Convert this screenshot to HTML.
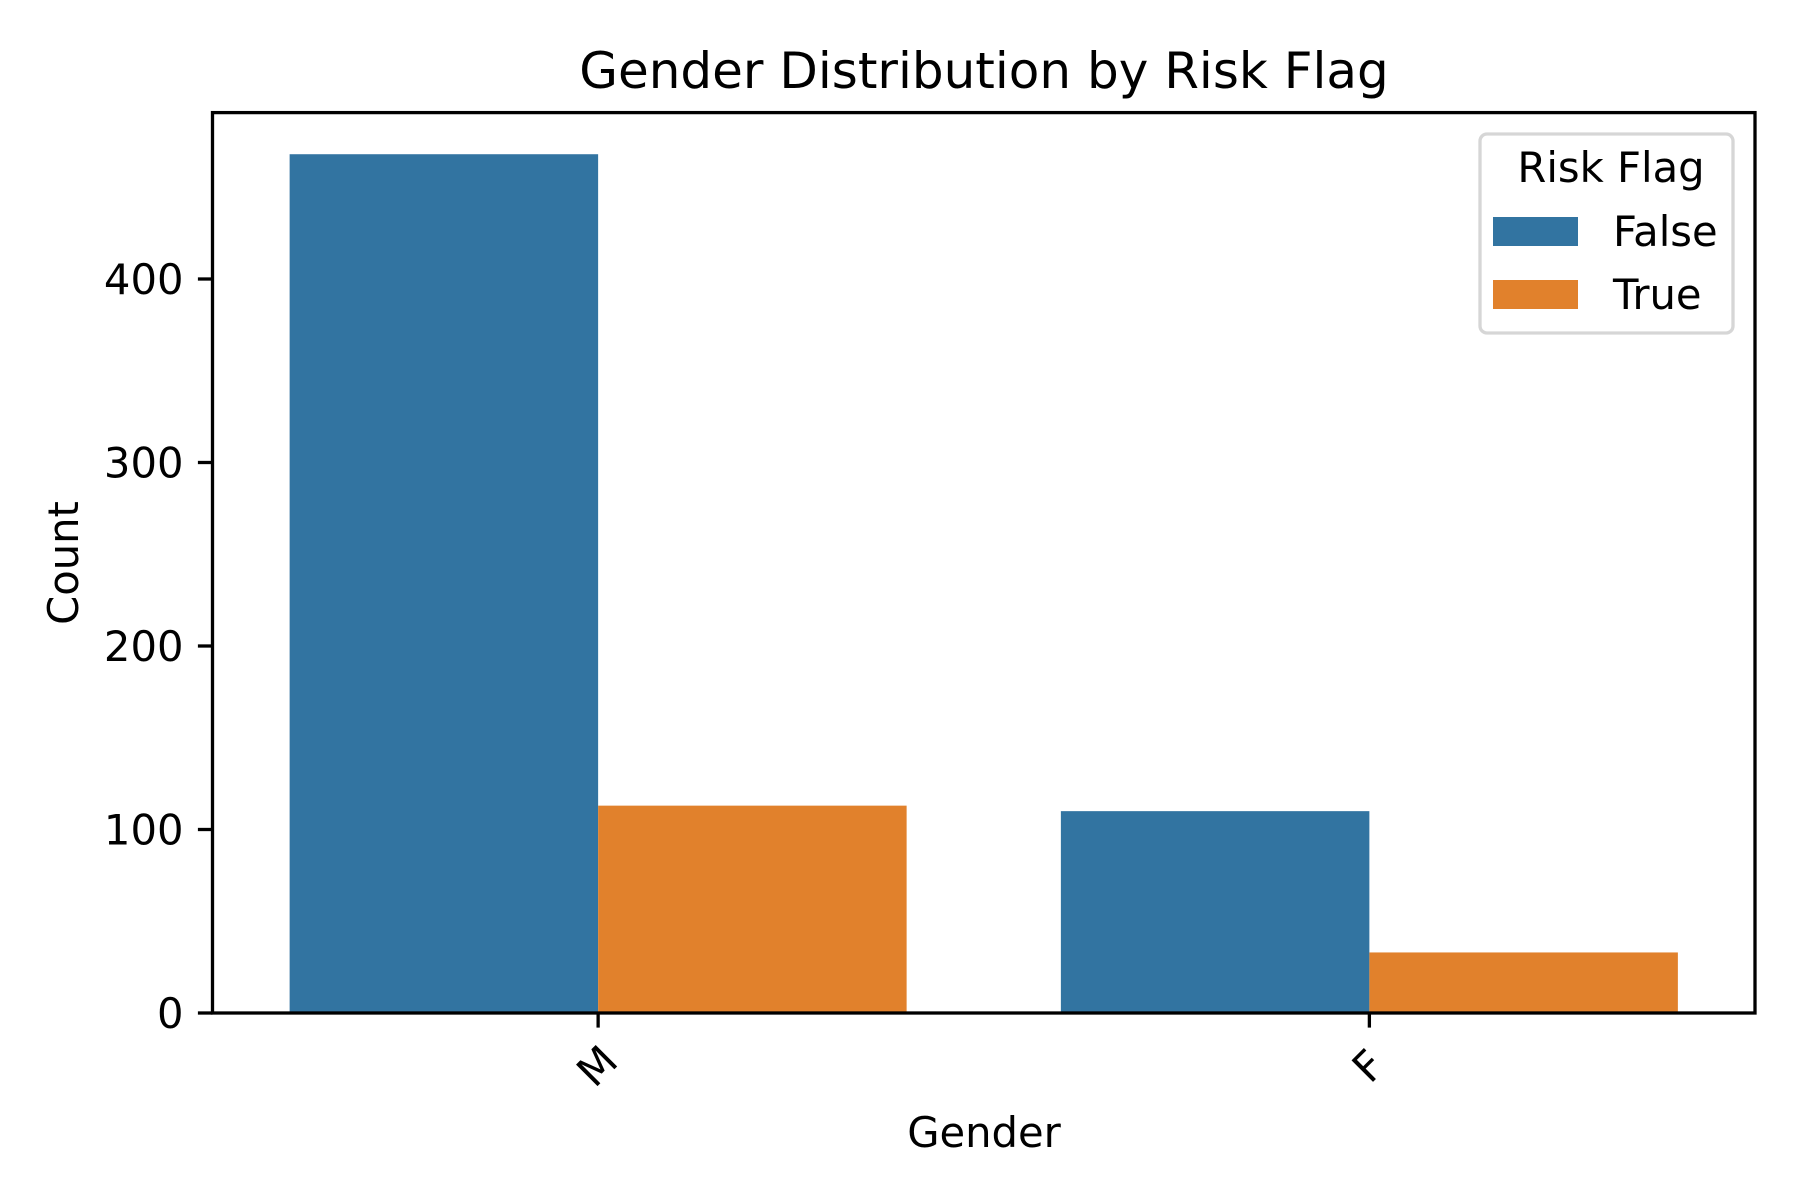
<!DOCTYPE html>
<html><head><meta charset="utf-8"><title>Gender Distribution by Risk Flag</title>
<style>html,body{margin:0;padding:0;background:#fff}svg{display:block}text{font-family:"DejaVu Sans","Liberation Sans",sans-serif;fill:#000}</style>
</head><body>
<svg id="chart" width="1800" height="1200" viewBox="0 0 1800 1200" xmlns="http://www.w3.org/2000/svg">
<rect width="1800" height="1200" fill="#fff"/>
<text x="984" y="88" font-size="50" text-anchor="middle">Gender Distribution by Risk Flag</text>
<g id="bars"></g>
<g id="axes"></g>
<text transform="translate(78,563) rotate(-90)" font-size="41.7" text-anchor="middle">Count</text>
<text x="984" y="1147" font-size="41.7" text-anchor="middle">Gender</text>
<g transform="translate(-3,0)">
<rect x="1483" y="134" width="253" height="199" rx="7" fill="#fff" fill-opacity="0.8" stroke="#d6d6d6" stroke-width="3.3"/>
<text x="1614" y="182" font-size="41.7" text-anchor="middle">Risk Flag</text>
<rect x="1496" y="217" width="85" height="29" fill="#3274a1"/>
<text x="1616" y="246" font-size="41.7">False</text>
<rect x="1496" y="280" width="85" height="29" fill="#e1812c"/>
<text x="1616" y="309" font-size="41.7">True</text>
</g>
</svg>
<script>
const categories = ["M", "F"];
const seriesNames = ["False", "True"];
const falseValues = [468, 110];
const trueValues = [113, 33];
const yTicks = [0, 100, 200, 300, 400];

const NS = "http://www.w3.org/2000/svg";
const L = 212.5, R = 1755, T = 112.6, B = 1013;
const yMax = (B - T) / 1.835;
function xScale(i) { return L + (i + 0.5) / categories.length * (R - L); }
function yScale(v) { return B - v / yMax * (B - T); }
const step = (R - L) / categories.length;
const barW = step * 0.4;
const colors = ["#3274a1", "#e1812c"];
const series = [falseValues, trueValues];

const bars = document.getElementById("bars");
series.forEach((vals, s) => {
  vals.forEach((v, i) => {
    const r = document.createElementNS(NS, "rect");
    const x0 = s === 0 ? xScale(i) - barW : xScale(i);
    r.setAttribute("x", x0);
    r.setAttribute("y", yScale(v));
    r.setAttribute("width", barW);
    r.setAttribute("height", yScale(0) - yScale(v));
    r.setAttribute("fill", colors[s]);
    
    
    bars.appendChild(r);
  });
});

const axes = document.getElementById("axes");
const frame = document.createElementNS(NS, "rect");
frame.setAttribute("x", L); frame.setAttribute("y", T);
frame.setAttribute("width", R - L); frame.setAttribute("height", B - T);
frame.setAttribute("fill", "none"); frame.setAttribute("stroke", "#000"); frame.setAttribute("stroke-width", "3.3");


axes.appendChild(frame);

yTicks.forEach(t => {
  const y = yScale(t);
  const ln = document.createElementNS(NS, "line");
  ln.setAttribute("x1", L - 14.6); ln.setAttribute("x2", L);
  ln.setAttribute("y1", y); ln.setAttribute("y2", y);
  ln.setAttribute("stroke", "#000"); ln.setAttribute("stroke-width", "3.3");
  
  
  axes.appendChild(ln);
  const tx = document.createElementNS(NS, "text");
  tx.setAttribute("x", L - 29); tx.setAttribute("y", y + 15);
  tx.setAttribute("font-size", "41.7"); tx.setAttribute("text-anchor", "end");
  tx.textContent = t;
  
  
  axes.appendChild(tx);
});

categories.forEach((c, i) => {
  const x = xScale(i);
  const ln = document.createElementNS(NS, "line");
  ln.setAttribute("x1", x); ln.setAttribute("x2", x);
  ln.setAttribute("y1", B); ln.setAttribute("y2", B + 14.6);
  ln.setAttribute("stroke", "#000"); ln.setAttribute("stroke-width", "3.3");
  
  
  axes.appendChild(ln);
  const tx = document.createElementNS(NS, "text");
  tx.setAttribute("transform", "translate(" + (x - 1) + "," + (B + 53) + ") rotate(-45)");
  tx.setAttribute("font-size", "41.7"); tx.setAttribute("text-anchor", "middle");
  tx.setAttribute("dominant-baseline", "central");
  tx.textContent = c;
  
  
  axes.appendChild(tx);
});
</script>
</body></html>
